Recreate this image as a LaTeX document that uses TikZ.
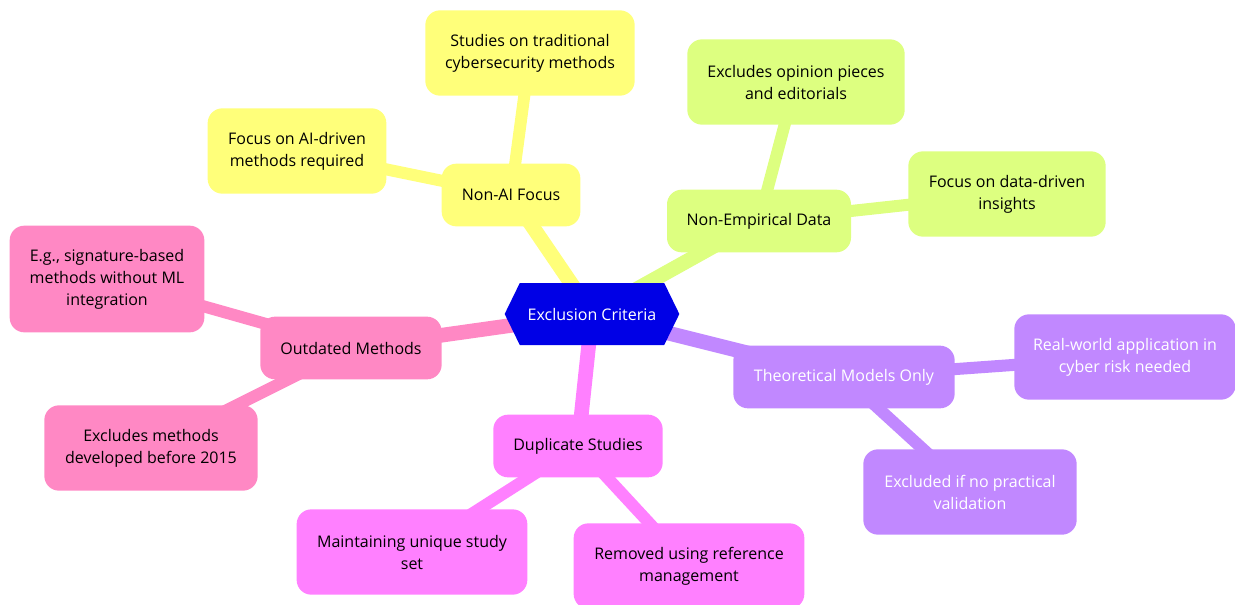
\documentclass[tikz,border=0pt]{standalone}
\usepackage{fontspec}
\setmainfont{Open Sans}
\usetikzlibrary{shapes.symbols,backgrounds}
\definecolor{mmroot}{RGB}{0,0,230}
\definecolor{mmyellow}{RGB}{255,255,122}
\definecolor{mmgreen}{RGB}{221,255,128}
\definecolor{mmpurple}{RGB}{193,136,255}
\definecolor{mmmagenta}{RGB}{255,128,255}
\definecolor{mmpink}{RGB}{255,136,196}
\tikzset{
  mmnode/.style={
    rounded corners=11pt,
    align=center,
    inner sep=4pt,
    font=\fontsize{12}{16.5}\selectfont
  },
  mmbranch/.style={mmnode,minimum height=47pt},
  mmleaf/.style={mmnode,minimum height=64pt},
  mmroot/.style={signal,signal to=east and west,signal pointer angle=128,
                 fill=mmroot,text=white,minimum width=131pt,minimum height=46.5pt,
                 font=\fontsize{12}{16.5}\selectfont,inner sep=0pt},
  mmtrunk/.style={line width=11pt},
  mmtwig/.style={line width=9pt}
}
\begin{document}
\begin{tikzpicture}[x=0.75pt,y=-0.75pt]
  \useasboundingbox (0,0) rectangle (1235,604);
  \node[mmroot] (root) at (592,314) {Exclusion Criteria};

  % Non-AI Focus
  \node[mmbranch,fill=mmyellow,minimum width=104pt] (nonai) at (511,195) {Non-AI Focus};
  \node[mmleaf,fill=mmyellow,minimum width=157pt] (trad) at (530,53)
    {Studies on traditional\\cybersecurity methods};
  \node[mmleaf,fill=mmyellow,minimum width=134pt] (aireq) at (297,151)
    {Focus on AI-driven\\methods required};

  % Non-Empirical Data
  \node[mmbranch,fill=mmgreen,minimum width=138pt] (nonemp) at (759,221) {Non-Empirical Data};
  \node[mmleaf,fill=mmgreen,minimum width=163pt] (opinion) at (796,82)
    {Excludes opinion pieces\\and editorials};
  \node[mmleaf,fill=mmgreen,minimum width=148pt] (datadrv) at (1007,194)
    {Focus on data-driven\\insights};

  % Theoretical Models Only
  \node[mmbranch,fill=mmpurple,text=white,minimum width=166pt] (theory) at (844,377)
    {Theoretical Models Only};
  \node[mmleaf,fill=mmpurple,text=white,minimum width=166pt] (realworld) at (1125,357)
    {Real-world application in\\cyber risk needed};
  \node[mmleaf,fill=mmpurple,text=white,minimum width=160pt] (practical) at (970,492)
    {Excluded if no practical\\validation};

  % Duplicate Studies
  \node[mmbranch,fill=mmmagenta,minimum width=127pt] (dup) at (578,446) {Duplicate Studies};
  \node[mmleaf,fill=mmmagenta,minimum width=173pt] (unique) at (412,552)
    {Maintaining unique study\\set};
  \node[mmleaf,fill=mmmagenta,minimum width=173pt] (refmgmt) at (689,566)
    {Removed using reference\\management};

  % Outdated Methods
  \node[mmbranch,fill=mmpink,minimum width=136pt] (outdated) at (351,348) {Outdated Methods};
  \node[mmnode,fill=mmpink,minimum width=146pt,minimum height=80pt] (sigbased) at (107,279)
    {E.g., signature-based\\methods without ML\\integration};
  \node[mmleaf,fill=mmpink,minimum width=160pt] (before) at (151,448)
    {Excludes methods\\developed before 2015};

  \begin{scope}[on background layer]
    \draw[mmtrunk,mmyellow] (root.center) -- (nonai.center);
    \draw[mmtrunk,mmgreen] (root.center) -- (nonemp.center);
    \draw[mmtrunk,mmpurple] (root.center) -- (theory.center);
    \draw[mmtrunk,mmmagenta] (root.center) -- (dup.center);
    \draw[mmtrunk,mmpink] (root.center) -- (outdated.center);
    \draw[mmtwig,mmyellow] (nonai.center) -- (trad.center);
    \draw[mmtwig,mmyellow] (nonai.center) -- (aireq.center);
    \draw[mmtwig,mmgreen] (nonemp.center) -- (opinion.center);
    \draw[mmtwig,mmgreen] (nonemp.center) -- (datadrv.center);
    \draw[mmtwig,mmpurple] (theory.center) -- (realworld.center);
    \draw[mmtwig,mmpurple] (theory.center) -- (practical.center);
    \draw[mmtwig,mmmagenta] (dup.center) -- (unique.center);
    \draw[mmtwig,mmmagenta] (dup.center) -- (refmgmt.center);
    \draw[mmtwig,mmpink] (outdated.center) -- (sigbased.center);
    \draw[mmtwig,mmpink] (outdated.center) -- (before.center);
  \end{scope}
\end{tikzpicture}
\end{document}
